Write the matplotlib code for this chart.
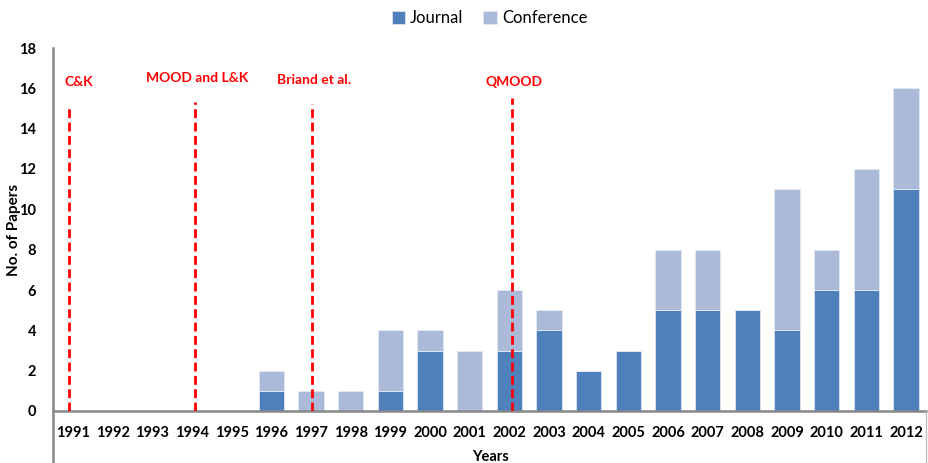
import numpy as np
import matplotlib.pyplot as plt
from matplotlib.lines import Line2D

years = [str(y) for y in range(1991, 2013)]
journal = np.array([0, 0, 0, 0, 0, 1, 0, 0, 1, 3, 0, 3, 4, 2, 3, 5, 5, 5, 4, 6, 6, 11])
conference = np.array([0, 0, 0, 0, 0, 1, 1, 1, 3, 1, 3, 3, 1, 0, 0, 3, 3, 0, 7, 2, 6, 5])

# metric milestones: label, position on category axis, line top, label height
event_labels = ["C&K", "MOOD and L&K", "Briand et al.", "QMOOD"]
event_pos = [-0.1, 3.08, 6.02, 11.06]
event_top = [15.1, 15.3, 15.2, 15.5]
event_text_y = [16.0, 16.2, 16.1, 16.0]

plt.rcParams["font.family"] = ["Lato", "DejaVu Sans"]

fig = plt.figure(figsize=(9.29, 4.63), dpi=100)
ax = fig.add_axes([53 / 929, 52 / 463, 873 / 929, 363 / 463])

x = np.arange(len(years))
w = 0.64
ax.bar(x, journal, w, color="#4F81BD", edgecolor="#DCE4F0", linewidth=0.6, label="Journal", zorder=2)
ax.bar(x, conference, w, bottom=journal, color="#AABAD8", edgecolor="#E4EAF4", linewidth=0.6,
       label="Conference", zorder=2)

for lab, px, top, ty in zip(event_labels, event_pos, event_top, event_text_y):
    ax.plot([px, px], [0, top], color="red", linestyle=(0, (3.2, 1.6)), linewidth=2.0, zorder=3)
    ha = "left" if px < 0 else "center"
    xx = px - 0.1 if px < 0 else px + 0.05
    ax.text(xx, ty, lab, color="red", fontweight="bold", fontsize=10, ha=ha, va="bottom")

ax.set_xlim(-0.5, len(years) - 0.5)
ax.set_ylim(0, 18)
ax.set_yticks(np.arange(0, 19, 2))
ax.set_xticks(x)
ax.set_xticklabels(years)
for t in ax.get_xticklabels() + ax.get_yticklabels():
    t.set_fontweight("bold")
    t.set_fontsize(10.5)
ax.tick_params(axis="x", length=0, pad=11)
ax.tick_params(axis="y", length=0, pad=12)

for s in ["top", "right"]:
    ax.spines[s].set_visible(False)
ax.spines["left"].set_visible(False)
ax.spines["bottom"].set_color("#888888")
ax.spines["bottom"].set_linewidth(1.8)

# axis frame lines running down past the category labels
fig.add_artist(Line2D([53 / 929, 53 / 929], [0, 415 / 463], color="#888888", linewidth=1.8))
fig.add_artist(Line2D([926 / 929, 926 / 929], [0, 52 / 463], color="#BBBBBB", linewidth=0.9))

ax.set_ylabel("No. of Papers", fontweight="bold", fontsize=11)
ax.yaxis.set_label_coords(-0.037, 0.5)
fig.text(490 / 929, 6 / 463, "Years", fontweight="bold", fontsize=10.5, ha="center", va="center")

ax.legend(loc="upper center", bbox_to_anchor=(0.5, 1.145), ncol=2, frameon=False,
          fontsize=12, handlelength=0.8, handleheight=0.8, handletextpad=0.3, columnspacing=1.2)

fig.savefig("out.png", dpi=100)
